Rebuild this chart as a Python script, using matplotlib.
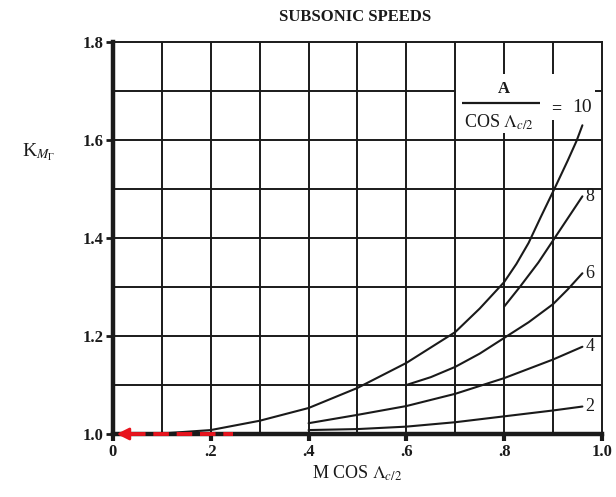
import matplotlib.pyplot as plt

plt.rcParams['font.family'] = ['Liberation Serif', 'DejaVu Serif']
plt.rcParams['mathtext.fontset'] = 'stix'

# curves, one per A / cos(sweep) value
x10 = [0.0, 0.1, 0.2, 0.3, 0.4, 0.5, 0.6, 0.7, 0.75, 0.8, 0.825, 0.85, 0.875, 0.905, 0.93, 0.948, 0.96]
y10 = [1.0, 1.001, 1.008, 1.027, 1.053, 1.094, 1.145, 1.208, 1.256, 1.31, 1.347, 1.39, 1.443, 1.505, 1.558, 1.598, 1.63]

x8 = [0.8, 0.832, 0.87, 0.9, 0.93, 0.96]
y8 = [1.26, 1.30, 1.35, 1.395, 1.44, 1.485]

x6 = [0.6, 0.65, 0.7, 0.75, 0.8, 0.85, 0.9, 0.93, 0.96]
y6 = [1.10, 1.116, 1.137, 1.164, 1.196, 1.228, 1.265, 1.295, 1.328]

x4 = [0.4, 0.5, 0.6, 0.7, 0.8, 0.9, 0.96]
y4 = [1.022, 1.039, 1.057, 1.082, 1.114, 1.152, 1.178]

x2 = [0.4, 0.5, 0.6, 0.7, 0.8, 0.9, 0.96]
y2 = [1.008, 1.010, 1.015, 1.024, 1.036, 1.048, 1.056]

curve_labels = ['8', '6', '4', '2']

xticks = [0, 0.2, 0.4, 0.6, 0.8, 1.0]
xticklabels = ['0', '.2', '.4', '.6', '.8', '1.0']
yticks = [1.0, 1.2, 1.4, 1.6, 1.8]
yticklabels = ['1.0', '1.2', '1.4', '1.6', '1.8']

ink = '#1a1a1a'

fig = plt.figure(figsize=(6.16, 4.97), dpi=100)
ax = fig.add_axes([0.1834, 0.1268, 0.7938, 0.7887])
ax.set_xlim(0, 1.0)
ax.set_ylim(1.0, 1.8)

# grid (some pieces left out behind the parameter label, as in the original)
for gx in [0.1, 0.2, 0.3, 0.4, 0.5, 0.6, 0.7]:
    ax.vlines(gx, 1.0, 1.8, color=ink, lw=1.4)
ax.vlines(0.8, 1.0, 1.615, color=ink, lw=1.4)
ax.vlines(0.8, 1.735, 1.8, color=ink, lw=1.4)
ax.vlines(0.9, 1.0, 1.64, color=ink, lw=1.4)
ax.vlines(0.9, 1.735, 1.8, color=ink, lw=1.4)
for gy in [1.1, 1.2, 1.3, 1.4, 1.5, 1.6]:
    ax.hlines(gy, 0, 1.0, color=ink, lw=1.4)
ax.hlines(1.7, 0, 0.7, color=ink, lw=1.4)
ax.hlines(1.7, 0.985, 1.0, color=ink, lw=1.4)

# curves
for xs, ys in [(x10, y10), (x8, y8), (x6, y6), (x4, y4), (x2, y2)]:
    ax.plot(xs, ys, color=ink, lw=1.5, solid_capstyle='round', solid_joinstyle='round')

for lab, xs, ys in zip(curve_labels, [x8, x6, x4, x2], [y8, y6, y4, y2]):
    ax.text(xs[-1] + 0.006, ys[-1], lab, fontsize=13, color=ink, va='center', ha='left')

# parameter label
ax.text(0.80, 1.705, 'A', fontsize=12, color=ink, ha='center', va='center', fontweight='bold')
ax.hlines(1.675, 0.713, 0.873, color=ink, lw=1.6)
ax.text(0.79, 1.636, r'COS $\Lambda_{c/2}$', fontsize=13, color=ink, ha='center', va='center')
ax.text(0.907, 1.665, '=', fontsize=13, color=ink, ha='center', va='center', fontweight='bold')
ax.text(0.94, 1.667, '10', fontsize=14, color=ink, ha='left', va='center')

# red dashed arrow along the bottom
ax.plot([0.035, 0.245], [1.0, 1.0], color='#e8141e', lw=2.8, ls=(0, (4, 2)),
        clip_on=False, zorder=6)
ax.annotate('', xy=(0.002, 1.0), xytext=(0.045, 1.0),
            arrowprops=dict(arrowstyle='-|>', color='#e8141e', lw=2, mutation_scale=18),
            annotation_clip=False, zorder=6)

# axes frame
for side in ['left', 'bottom']:
    ax.spines[side].set_linewidth(3.2)
    ax.spines[side].set_color(ink)
for side in ['top', 'right']:
    ax.spines[side].set_linewidth(1.4)
    ax.spines[side].set_color(ink)

ax.set_xticks(xticks)
ax.set_xticklabels(xticklabels, fontsize=12, fontweight='bold', color=ink)
ax.set_yticks(yticks)
ax.set_yticklabels(yticklabels, fontsize=12, fontweight='bold', color=ink)
ax.tick_params(axis='x', direction='out', length=5, width=3, color=ink, pad=2)
ax.tick_params(axis='y', direction='out', length=5, width=2, color=ink, pad=2)

ax.set_xlabel(r'M COS $\Lambda_{c/2}$', fontsize=13, color=ink, labelpad=3)
fig.text(0.035, 0.693, r'K$_{M_\Gamma}$', fontsize=14, color=ink, ha='left', va='center')
fig.text(0.577, 0.965, 'SUBSONIC SPEEDS', fontsize=12, color=ink, ha='center', va='center',
         fontweight='bold')

fig.savefig('out.png', dpi=100)
